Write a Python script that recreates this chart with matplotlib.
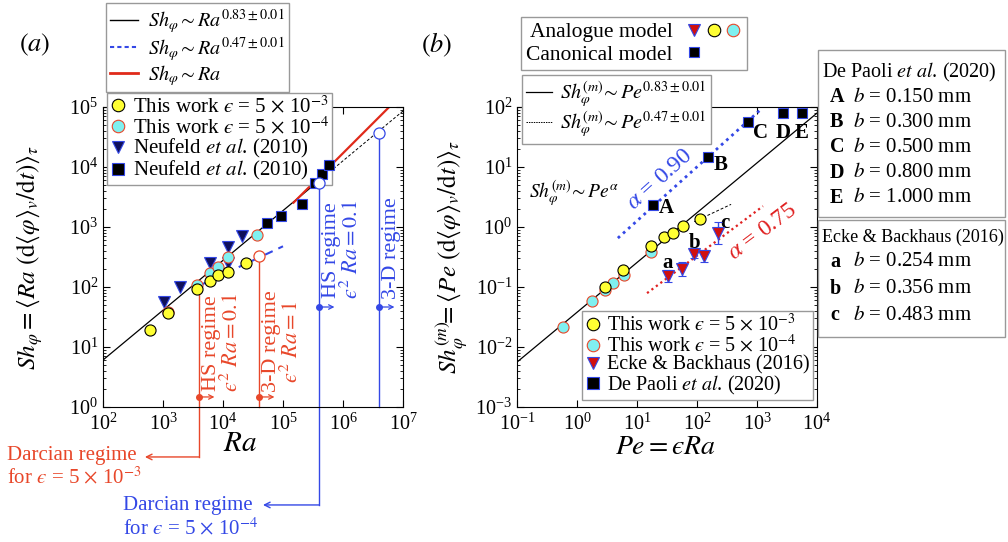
import numpy as np
import matplotlib
matplotlib.use('Agg')
import matplotlib.pyplot as plt
from matplotlib.lines import Line2D
from matplotlib.patches import Rectangle
from matplotlib.legend_handler import HandlerTuple
from matplotlib.ticker import LogLocator

plt.rcParams['font.family'] = ['Liberation Serif', 'DejaVu Serif']
plt.rcParams['mathtext.fontset'] = 'stix'

W, H = 1008, 542


def fx(px):
    return px / W


def fy(py):
    return 1 - py / H


RED = '#e8472a'
BLUE = '#3448e6'
NAVY = '#10105a'
YELLOW = '#ffff33'
CYAN = '#80f0f0'
TRI_RED = '#d01010'
E = '\u03f5'          # lunate epsilon, used inside mathtext
EPS = '$' + E + '$'

# ---- panel (a) data ----
ra_yellow = [607, 1211, 3690, 6070, 8250, 12100, 24150]
sh_yellow = [19.2, 36.9, 92.6, 126, 158, 178, 251]
ra_cyan = [1211, 3690, 6070, 8250, 12100, 36900]
sh_cyan = [38, 108, 171, 215, 316, 736]
ra_tri = [1040, 1920, 6070, 12000, 12000, 20700]
sh_tri = [56, 100, 251, 464, 251, 708]
ra_sq = [54100, 92600, 2.07e5, 3.42e5, 4.47e5, 5.84e5]
sh_sq = [1166, 1525, 2418, 5412, 7640, 10800]

# regime limits (eps^2 Ra = 0.1 and 1)
ra_reg_red = [4000, 40000]
sh_top_red = [100, 328]
ra_reg_blue = [4e5, 4e6]
sh_top_blue = [5410, 36900]

# fitted laws
sh0_083, exp_083 = 6.07, 0.83      # Sh at Ra = 100
c_047, exp_047 = 2.13, 0.47
c_lin = 0.017

# ---- panel (b) data ----
pe_yellow = [2.93, 5.84, 17.1, 28.2, 39.8, 58.4, 112]
shm_yellow = [0.1, 0.192, 0.482, 0.68, 0.79, 1.04, 1.36]
pe_cyan = [0.585, 1.78, 2.93, 3.98, 6.0, 17.1]
shm_cyan = [0.0215, 0.058, 0.089, 0.117, 0.158, 0.383]
pe_ecke = [32.9, 56.2, 89, 131, 224]
shm_ecke = [0.153, 0.2, 0.355, 0.329, 0.794]
err_ecke_dex = [0.1, 0.11, 0.06, 0.1, 0.18]
ecke_labels = {0: 'a', 2: 'b', 4: 'c'}
pe_dp = [18.5, 152, 708, 2710, 5620]
shm_dp = [2.33, 14.7, 56, 79, 79]
dp_labels = ['A', 'B', 'C', 'D', 'E']
dp_b = ['0.150', '0.300', '0.500', '0.800', '1.000']
ecke_b = ['0.254', '0.356', '0.483']

fig = plt.figure(figsize=(W / 100, H / 100), dpi=100)
ax_a = fig.add_axes([fx(103), fy(407), 300 / W, 300 / H])
ax_b = fig.add_axes([fx(517), fy(407), 300 / W, 300 / H])
for ax in (ax_a, ax_b):
    ax.set_xscale('log')
    ax.set_yscale('log')
    ax.xaxis.set_major_locator(LogLocator(base=10, numticks=12))
    ax.yaxis.set_major_locator(LogLocator(base=10, numticks=12))
    ax.tick_params(which='both', direction='in', top=True, right=True, labelsize=14.5)
    ax.tick_params(which='major', length=5)
    ax.tick_params(which='minor', length=2.5)
    ax.tick_params(axis='x', pad=5)
ax_a.set_xlim(1e2, 1e7)
ax_a.set_ylim(1e0, 1e5)
ax_b.set_xlim(1e-1, 1e4)
ax_b.set_ylim(1e-3, 1e2)

# ---------------- panel (a) ----------------
ra1 = np.logspace(2, np.log10(4.5e5), 60)
ax_a.plot(ra1, sh0_083 * (ra1 / 100) ** exp_083, 'k-', lw=0.9, zorder=2)
ra2 = np.logspace(np.log10(4.5e5), 7, 30)
ax_a.plot(ra2, sh0_083 * (ra2 / 100) ** exp_083, 'k--', lw=0.7, dashes=(3, 2), zorder=2)
ra3 = np.logspace(np.log10(1.5e5), 7, 30)
ax_a.plot(ra3, c_lin * ra3, color='#e02a1a', lw=1.6, zorder=2)
ra4 = np.logspace(np.log10(4000), 5, 30)
ax_a.plot(ra4, c_047 * ra4 ** exp_047, color=BLUE, ls='--', lw=1.5, dashes=(4, 3), zorder=2)

# regime lines
darcy_y = {'red': 0.147, 'blue': 0.0233}
for i, (ra, top) in enumerate(zip(ra_reg_red, sh_top_red)):
    bottom = darcy_y['red'] if i == 0 else 1.0
    ax_a.plot([ra, ra], [bottom, top], color=RED, lw=1, clip_on=False, zorder=1)
    ax_a.plot(ra, 1.47, 'o', color=RED, ms=4, zorder=3, clip_on=False)
    ax_a.annotate('', xy=(ra * 1.8, 1.47), xytext=(ra, 1.47),
                  arrowprops=dict(arrowstyle='->', color=RED, lw=0.9,
                                  mutation_scale=8, shrinkA=0, shrinkB=0))
for i, (ra, top) in enumerate(zip(ra_reg_blue, sh_top_blue)):
    bottom = darcy_y['blue'] if i == 0 else 1.0
    ax_a.plot([ra, ra], [bottom, top], color=BLUE, lw=1, clip_on=False, zorder=1)
    ax_a.plot(ra, 46.4, 'o', color=BLUE, ms=4, zorder=3, clip_on=False)
    ax_a.annotate('', xy=(ra * 1.8, 46.4), xytext=(ra, 46.4),
                  arrowprops=dict(arrowstyle='->', color=BLUE, lw=0.9,
                                  mutation_scale=8, shrinkA=0, shrinkB=0))

ax_a.annotate('', xy=(500, darcy_y['red']), xytext=(ra_reg_red[0], darcy_y['red']),
              annotation_clip=False,
              arrowprops=dict(arrowstyle='->', color=RED, lw=1, shrinkA=0, shrinkB=0))
ax_a.annotate('', xy=(46400, darcy_y['blue']), xytext=(ra_reg_blue[0], darcy_y['blue']),
              annotation_clip=False,
              arrowprops=dict(arrowstyle='->', color=BLUE, lw=1, shrinkA=0, shrinkB=0))

reg_kw = dict(rotation=90, ha='left', va='bottom', fontsize=16,
              multialignment='center', linespacing=1.0)
ax_a.text(ra_reg_red[0] * 1.12, 1.75, 'HS regime\n$' + E + '^2\\ Ra = 0.1$', color=RED, **reg_kw)
ax_a.text(ra_reg_red[1] * 1.12, 1.75, '3-D regime\n$' + E + '^2\\ Ra = 1$', color=RED, **reg_kw)
ax_a.text(ra_reg_blue[0] * 1.12, 62, 'HS regime\n$' + E + '^2\\ Ra = 0.1$', color=BLUE, **reg_kw)
ax_a.text(ra_reg_blue[1] * 1.12, 62, '3-D regime', color=BLUE, **reg_kw)

fig.text(fx(7), fy(467), 'Darcian regime\nfor ' + EPS + ' = 5 $\\times$ 10$^{-3}$', color=RED,
         fontsize=15, ha='left', va='center', linespacing=1.15)
fig.text(fx(123), fy(518), 'Darcian regime\nfor ' + EPS + ' = 5 $\\times$ 10$^{-4}$', color=BLUE,
         fontsize=15, ha='left', va='center', linespacing=1.15)

# markers
ax_a.plot(ra_tri, sh_tri, 'v', ms=8, mfc=NAVY, mec=BLUE, mew=0.8, ls='none', zorder=4)
ax_a.plot(ra_sq, sh_sq, 's', ms=7.5, mfc='k', mec=BLUE, mew=0.8, ls='none', zorder=4)
ax_a.plot(ra_cyan, sh_cyan, 'o', ms=8, mfc=CYAN, mec=RED, mew=0.8, ls='none', zorder=5)
ax_a.plot(ra_yellow, sh_yellow, 'o', ms=8, mfc=YELLOW, mec='k', mew=0.8, ls='none', zorder=6)
ax_a.plot(ra_reg_red[1:], sh_top_red[1:], 'o', ms=8, mfc='white', mec=RED, mew=0.9, ls='none', zorder=6)
ax_a.plot(ra_reg_blue, sh_top_blue, 'o', ms=8, mfc='white', mec=BLUE, mew=0.9, ls='none', zorder=6)

h_y = Line2D([], [], ls='none', marker='o', ms=9, mfc=YELLOW, mec='k', mew=0.8)
h_c = Line2D([], [], ls='none', marker='o', ms=9, mfc=CYAN, mec=RED, mew=0.8)
h_t = Line2D([], [], ls='none', marker='v', ms=9, mfc=NAVY, mec=BLUE, mew=0.8)
h_s = Line2D([], [], ls='none', marker='s', ms=8, mfc='k', mec=BLUE, mew=0.8)
leg_kw = dict(fancybox=False, edgecolor='#999999', framealpha=1, borderaxespad=0)
leg_a = ax_a.legend([h_y, h_c, h_t, h_s],
                    ['This work ' + EPS + ' = 5 $\\times$ 10$^{-3}$',
                     'This work ' + EPS + ' = 5 $\\times$ 10$^{-4}$',
                     'Neufeld $et\\ al$. (2010)', 'Neufeld $et\\ al$. (2010)'],
                    loc='upper left', bbox_to_anchor=(fx(107), fy(93)),
                    bbox_transform=fig.transFigure, fontsize=15,
                    handlelength=0.8, handletextpad=0.3, labelspacing=-0.05, borderpad=0.15,
                    **leg_kw)
leg_a.set_zorder(3)

h_l1 = Line2D([], [], color='k', lw=1)
h_l2 = Line2D([], [], color=BLUE, lw=1.5, ls='--', dashes=(2, 1.5))
h_l3 = Line2D([], [], color='#e02a1a', lw=2)
fig.legend([h_l1, h_l2, h_l3],
           ['$Sh_\\varphi \\sim Ra^{0.83\\pm0.01}$', '$Sh_\\varphi \\sim Ra^{0.47\\pm0.01}$',
            '$Sh_\\varphi \\sim Ra$'],
           loc='upper left', bbox_to_anchor=(fx(106), fy(3)), fontsize=14.5,
           handlelength=1.4, handletextpad=0.5, labelspacing=0.0, borderpad=0.2, **leg_kw)

fig.text(fx(35), fy(45), '$(\\mathit{a})$', fontsize=19, ha='center', va='center')
fig.text(fx(240), fy(444), '$Ra$', fontsize=21, ha='center', va='center')
fig.text(fx(30), fy(257), '$Sh_\\varphi = \\langle Ra\\ (\\mathrm{d}\\langle\\varphi\\rangle_v/\\mathrm{d}t)\\rangle_\\tau$',
         fontsize=18, rotation=90, ha='center', va='center')

# ---------------- panel (b) ----------------
pe1 = np.logspace(-1, 4, 60)
ax_b.plot(pe1, 0.0056 * (pe1 / 0.1) ** 0.83, 'k-', lw=0.9, zorder=2)
pe2 = np.logspace(np.log10(90), np.log10(370), 20)
ax_b.plot(pe2, 1.36 * (pe2 / 112) ** 0.47, color='k', lw=0.7, ls=(0, (3, 2)), zorder=2)
pe3 = np.logspace(np.log10(4.8), np.log10(1122), 40)
ax_b.plot(pe3, 0.656 * (pe3 / 4.82) ** 0.9, color=BLUE, lw=2, ls=(0, (1, 1.5)), zorder=2)
pe4 = np.logspace(np.log10(14.7), np.log10(1259), 40)
ax_b.plot(pe4, 0.079 * (pe4 / 14.7) ** 0.75, color='#e02020', lw=1.6, ls=(0, (1, 1.5)), zorder=2)

ax_b.text(24.2, 6.3, '$\\alpha$ = 0.90', color=BLUE, fontsize=17, rotation=42,
          ha='center', va='center', rotation_mode='anchor')
ax_b.text(1250, 0.83, '$\\alpha$ = 0.75', color='#e02020', fontsize=17, rotation=37,
          ha='center', va='center', rotation_mode='anchor')
ax_b.text(0.16, 10 ** 0.55, '$Sh_\\varphi^{(m)}\\!\\sim Pe^{\\alpha}$', fontsize=14,
          ha='left', va='center')

ecke_lo = [s * (1 - 10 ** -d) for s, d in zip(shm_ecke, err_ecke_dex)]
ecke_hi = [s * (10 ** d - 1) for s, d in zip(shm_ecke, err_ecke_dex)]
ax_b.errorbar(pe_ecke, shm_ecke, yerr=[ecke_lo, ecke_hi], fmt='v', ms=9, mfc=TRI_RED,
              mec=BLUE, mew=0.8, ecolor=BLUE, elinewidth=1, capsize=3, zorder=4)
ax_b.plot(pe_cyan, shm_cyan, 'o', ms=8, mfc=CYAN, mec=RED, mew=0.8, ls='none', zorder=5)
ax_b.plot(pe_yellow, shm_yellow, 'o', ms=8, mfc=YELLOW, mec='k', mew=0.8, ls='none', zorder=6)
ax_b.plot(pe_dp, shm_dp, 's', ms=7.5, mfc='k', mec=BLUE, mew=0.8, ls='none', zorder=6,
          clip_on=False)

dp_offsets = [(6, -3, 'left'), (6, -8, 'left'), (5, -11, 'left'), (0, -20, 'center'), (0, -20, 'center')]
for pe, sh, lab, (dx, dy, ha) in zip(pe_dp, shm_dp, dp_labels, dp_offsets):
    ax_b.annotate(lab, (pe, sh), xytext=(dx, dy), textcoords='offset pixels',
                  fontsize=15, fontweight='bold', ha=ha, va='center')
ecke_offsets = {0: (0, 13), 2: (1, 11), 4: (7, 10)}
for i, lab in ecke_labels.items():
    dx, dy = ecke_offsets[i]
    ax_b.annotate(lab, (pe_ecke[i], shm_ecke[i]), xytext=(dx, dy), textcoords='offset pixels',
                  fontsize=15, fontweight='bold', ha='center', va='center')

h_e = Line2D([], [], ls='none', marker='v', ms=9, mfc=TRI_RED, mec=BLUE, mew=0.8)
ax_b.legend([h_y, h_c, h_e, h_s],
            ['This work ' + EPS + ' = 5 $\\times$ 10$^{-3}$',
             'This work ' + EPS + ' = 5 $\\times$ 10$^{-4}$',
             'Ecke & Backhaus (2016)', 'De Paoli $et\\ al$. (2020)'],
            loc='lower right', bbox_to_anchor=(fx(813), fy(400)), bbox_transform=fig.transFigure,
            fontsize=14.5, handlelength=0.8, handletextpad=0.3, labelspacing=-0.05,
            borderpad=0.15, **leg_kw)

h_d1 = Line2D([], [], color='k', lw=0.9)
h_d2 = Line2D([], [], color='k', lw=0.7, ls=(0, (1.5, 1)))
fig.legend([h_d1, h_d2],
           ['$Sh_\\varphi^{(m)}\\!\\sim Pe^{0.83\\pm0.01}$', '$Sh_\\varphi^{(m)}\\!\\sim Pe^{0.47\\pm0.01}$'],
           loc='upper left', bbox_to_anchor=(fx(522), fy(75)), fontsize=14.5,
           handlelength=1.3, handletextpad=0.4, labelspacing=0.0, borderpad=0.2, **leg_kw)

h_blank = Line2D([], [], ls='none')
h_t2 = Line2D([], [], ls='none', marker='v', ms=9, mfc=TRI_RED, mec=BLUE, mew=0.8)
h_s2 = Line2D([], [], ls='none', marker='s', ms=6.5, mfc='k', mec=BLUE, mew=0.8)
fig.legend([(h_t2, h_y, h_c), (h_s2, h_blank, h_blank)], ['Analogue model', 'Canonical model'],
           handler_map={tuple: HandlerTuple(ndivide=None, pad=0.1)}, markerfirst=False,
           loc='upper left', bbox_to_anchor=(fx(521), fy(17)), fontsize=15.5,
           handlelength=2.6, handletextpad=0.6, labelspacing=0.1, borderpad=0.25, **leg_kw)

fig.text(fx(437), fy(45), '$(\\mathit{b})$', fontsize=19, ha='center', va='center')
fig.text(fx(665), fy(448), '$Pe = ' + E + ' Ra$', fontsize=20, ha='center', va='center')
fig.text(fx(452), fy(257), '$Sh_\\varphi^{(m)}\\!\\!= \\langle Pe\\ (\\mathrm{d}\\langle\\varphi\\rangle_v/\\mathrm{d}t)\\rangle_\\tau$',
         fontsize=18, rotation=90, ha='center', va='center')

# side boxes
fig.patches.append(Rectangle((fx(818), fy(217)), (1005 - 818) / W, (217 - 50) / H,
                             transform=fig.transFigure, fill=False, ec='#999999', lw=1))
fig.patches.append(Rectangle((fx(818), fy(337)), (1005 - 818) / W, (337 - 220) / H,
                             transform=fig.transFigure, fill=False, ec='#999999', lw=1))
fig.text(fx(822), fy(72), 'De Paoli $et\\ al$. (2020)', fontsize=14.5, ha='left', va='center')
for k, (lab, b) in enumerate(zip(dp_labels, dp_b)):
    y = 97 + 25.2 * k
    fig.text(fx(830), fy(y), lab, fontsize=14.5, fontweight='bold', ha='left', va='center')
    fig.text(fx(853), fy(y), '$b$ = ' + b + ' mm', fontsize=15, ha='left', va='center')
fig.text(fx(822), fy(237), 'Ecke & Backhaus (2016)', fontsize=13, ha='left', va='center')
for k, (lab, b) in enumerate(zip(['a', 'b', 'c'], ecke_b)):
    y = 262 + 26.5 * k
    fig.text(fx(830), fy(y), lab, fontsize=14.5, fontweight='bold', ha='left', va='center')
    fig.text(fx(853), fy(y), '$b$ = ' + b + ' mm', fontsize=15, ha='left', va='center')

fig.savefig('out.png', dpi=100)
